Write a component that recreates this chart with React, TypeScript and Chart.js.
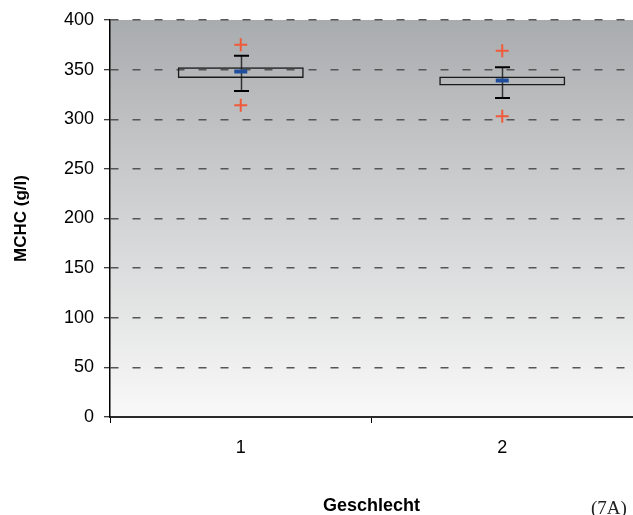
import React, { useEffect, useRef } from 'react';
import { Chart, registerables } from 'chart.js';

Chart.register(...registerables);

// ---- data ----
const categories = ['1', '2'];
const boxLow = [341.5, 334];
const boxHigh = [352.5, 343];
const whiskerLow = [328.5, 321.5];
const whiskerHigh = [364, 352.5];
const means = [348, 339];
const outlierHigh = [375, 369];
const outlierLow = [314, 303];
const yMin = 0;
const yMax = 400;
const yStep = 50;
const yTitle = 'MCHC (g/l)';
const xTitle = 'Geschlecht';
const figureLabel = '(7A)';

const bgPlugin = {
  id: 'bgGradient',
  beforeDraw(chart: any) {
    const { ctx, chartArea } = chart;
    if (!chartArea) return;
    const g = ctx.createLinearGradient(0, chartArea.top, 0, chartArea.bottom);
    g.addColorStop(0, '#a9acae');
    g.addColorStop(0.5, '#d2d3d4');
    g.addColorStop(1, '#f9f9f9');
    ctx.save();
    ctx.fillStyle = g;
    ctx.fillRect(chartArea.left, chartArea.top, chartArea.right - chartArea.left, chartArea.bottom - chartArea.top);
    ctx.restore();
  },
};

const whiskerPlugin = {
  id: 'whiskers',
  beforeDatasetsDraw(chart: any) {
    const { ctx } = chart;
    const xs = chart.scales.x;
    const ys = chart.scales.y;
    ctx.save();
    categories.forEach((_, i) => {
      const x = Math.round(xs.getPixelForValue(i)) + 0.5;
      const yTop = ys.getPixelForValue(whiskerHigh[i]);
      const yBot = ys.getPixelForValue(whiskerLow[i]);
      ctx.strokeStyle = '#333';
      ctx.lineWidth = 1.5;
      ctx.beginPath();
      ctx.moveTo(x, yTop);
      ctx.lineTo(x, yBot);
      ctx.stroke();
      ctx.strokeStyle = '#000';
      ctx.lineWidth = 2;
      ctx.beginPath();
      ctx.moveTo(x - 7.5, yTop);
      ctx.lineTo(x + 7.5, yTop);
      ctx.moveTo(x - 7.5, yBot);
      ctx.lineTo(x + 7.5, yBot);
      ctx.stroke();
    });
    ctx.restore();
  },
  afterDraw(chart: any) {
    const { ctx } = chart;
    ctx.save();
    ctx.font = '19px "Liberation Serif", "Times New Roman", serif';
    ctx.fillStyle = '#222';
    ctx.textBaseline = 'alphabetic';
    ctx.textAlign = 'left';
    ctx.fillText(figureLabel, 591, 514);
    ctx.restore();
  },
};

export default function App() {
  const ref = useRef<HTMLCanvasElement | null>(null);

  useEffect(() => {
    document.body.style.margin = '0';
    const canvas = ref.current;
    if (!canvas) return;
    const chart = new Chart(canvas, {
      type: 'bar',
      data: {
        labels: categories,
        datasets: [
          {
            type: 'line',
            label: 'mean',
            data: means,
            showLine: false,
            pointStyle: 'line',
            pointRadius: 6.5,
            pointBorderWidth: 4,
            pointBorderColor: '#1f4e9c',
            pointBackgroundColor: '#1f4e9c',
            order: 0,
          } as any,
          {
            type: 'line',
            label: 'outlier high',
            data: outlierHigh,
            showLine: false,
            pointStyle: 'cross',
            pointRadius: 6.5,
            pointBorderWidth: 2,
            pointBorderColor: '#f05a3a',
            order: 1,
          } as any,
          {
            type: 'line',
            label: 'outlier low',
            data: outlierLow,
            showLine: false,
            pointStyle: 'cross',
            pointRadius: 6.5,
            pointBorderWidth: 2,
            pointBorderColor: '#f05a3a',
            order: 2,
          } as any,
          {
            type: 'bar',
            label: 'box',
            data: boxLow.map((lo, i) => [lo, boxHigh[i]]),
            backgroundColor: 'rgba(0,0,0,0)',
            borderColor: '#1a1a1a',
            borderWidth: 1.5,
            borderSkipped: false,
            barPercentage: 0.482,
            categoryPercentage: 1,
            order: 3,
          } as any,
        ],
      },
      options: {
        responsive: false,
        devicePixelRatio: 1,
        animation: false,
        layout: { autoPadding: false, padding: { top: 20, right: 0, bottom: 0, left: 0 } },
        plugins: {
          legend: { display: false },
          tooltip: { enabled: false },
        },
        scales: {
          x: {
            type: 'category',
            offset: true,
            afterFit(scale: any) {
              scale.height = 98;
              scale.paddingLeft = 0;
              scale.paddingRight = 0;
            },
            grid: {
              offset: true,
              drawOnChartArea: false,
              drawTicks: true,
              tickLength: 6,
              tickColor: '#000',
              tickWidth: 1,
            },
            border: { display: true, color: '#2a2a2a', width: 2 },
            ticks: {
              color: '#000',
              font: { family: '"Liberation Sans", Arial, sans-serif', size: 18 },
              padding: 14,
            },
            title: {
              display: true,
              text: xTitle,
              color: '#000',
              font: { family: '"Liberation Sans", Arial, sans-serif', size: 18, weight: 'bold' },
              padding: { top: 0, bottom: -2 },
            },
          },
          y: {
            min: yMin,
            max: yMax,
            afterFit(scale: any) {
              scale.width = 110;
              scale.paddingTop = 0;
              scale.paddingBottom = 0;
            },
            ticks: {
              stepSize: yStep,
              color: '#000',
              font: { family: '"Liberation Sans", Arial, sans-serif', size: 18 },
              padding: 10,
            },
            grid: {
              color: (c: any) => (c.tick && c.tick.value === 0 ? 'rgba(0,0,0,0)' : '#555'),
              lineWidth: 1.5,
              drawTicks: true,
              tickLength: 6,
              tickColor: '#000',
              tickWidth: 1,
              tickBorderDash: [],
            },
            border: { display: true, color: '#000', width: 1.5, dash: [8, 14] },
            title: {
              display: true,
              text: yTitle,
              color: '#000',
              font: { family: '"Liberation Sans", Arial, sans-serif', size: 17, weight: 'bold' },
              padding: { top: 11, bottom: 0 },
            },
          },
        },
      } as any,
      plugins: [bgPlugin, whiskerPlugin],
    });
    return () => chart.destroy();
  }, []);

  return (
    <div style={{ position: 'relative', width: 633, height: 515 }}>
      <canvas ref={ref} width={633} height={515} />
    </div>
  );
}
